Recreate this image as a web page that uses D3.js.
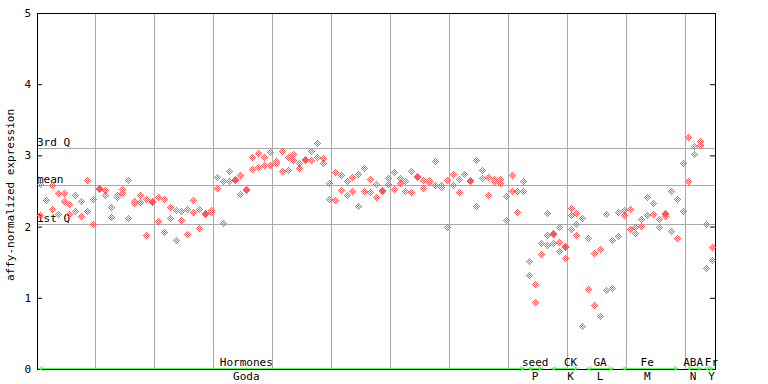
<!DOCTYPE html>
<html>
<head>
<meta charset="utf-8">
<script src="https://cdn.jsdelivr.net/npm/d3@7"></script>
<style>
  body { margin: 0; background: #fff; }
  text { font-family: "DejaVu Sans Mono", monospace; font-size: 11px; fill: #000; }
</style>
</head>
<body>
<svg width="768" height="384"></svg>
<script>
// replicate values per sample (affy-normalized expression)
const expression = [
  [2.598,2.163],[2.374],[2.584,2.247],[2.472,2.177],[2.472,2.360],[2.317,2.177],[2.444,2.219],[2.360,2.149],[2.654,2.219],[2.388,2.037],
  [2.542,2.528],[2.514,2.444],[2.275,2.135],[2.444,2.416],[2.528,2.472],[2.654,2.121],[2.360,2.331],[2.444,2.346],[2.388,1.882],[2.360,2.346],
  [2.416,2.079],[2.388,1.924],[2.275,2.121],[2.233,1.812],[2.219,2.093],[2.247,1.896],[2.374,2.205],[2.247,1.980],[2.191,2.177],[2.233,2.205],
  [2.697,2.542],[2.640,2.051],[2.781,2.640],[2.669,2.654],[2.725,2.458],[2.528,2.514],[2.978,2.809],[3.034,2.837],[2.978,2.865],[3.048,2.865],
  [2.921,2.893],[3.062,2.781],[2.978,2.795],[3.020,2.935],[2.893,2.823],[2.949,2.935],[3.062,2.935],[3.174,2.978],[2.963,2.893],[2.612,2.388],
  [2.767,2.374],[2.725,2.514],[2.640,2.444],[2.697,2.500],[2.739,2.289],[2.823,2.500],[2.669,2.486],[2.598,2.416],[2.514,2.500],[2.683,2.598],
  [2.767,2.528],[2.683,2.612],[2.640,2.500],[2.781,2.486],[2.711,2.697],[2.654,2.542],[2.654,2.626],[2.921,2.584],[2.584,2.556],[2.654,1.994],
  [2.739,2.584],[2.669,2.486],[2.739],[2.654,2.640],[2.935,2.289],[2.795,2.683],[2.697,2.444],[2.669,2.640],[2.669,2.612],[2.430,2.093],
  [2.725,2.500],[2.500,2.205],[2.640,2.500],[1.517,1.320],[1.194,0.941],[1.770,1.615],[2.191,1.882,1.742],[1.910,1.896,1.770],[1.994,1.784,1.657],[1.728,1.713,1.559],
  [2.261,2.163,1.966],[2.191,2.037,1.882],[2.121,0.604],[1.840,1.124],[1.629,0.899],[1.685,0.744],[2.177,1.110],[1.812,1.138],[2.205,1.868],[2.233,2.163],
  [2.247,1.966],[1.994,1.910],[2.107,2.008],[2.416,2.163],[2.331,2.177],[2.107,1.994],[2.191,2.177,2.149],[2.500,1.938],[2.388,1.840],[2.893,2.219],
  [3.258,2.640],[3.132,3.020],[3.202,3.146],[2.037,1.419],[1.713,1.531]
];

const groupNames = ['Hormones', 'seed', 'CK', 'GA', 'Fe', 'ABA', 'Fr'];
const groupCodes = ['Goda', 'P', 'K', 'L', 'M', 'N', 'Y'];
const groupStart = [0, 83, 87, 93, 99, 110, 113];
const groupEnd   = [82, 85, 91, 97, 108, 112, 114];
const groupLabelAt = [35, 84, 90, 95, 103, 110.8, 113.9];

const refNames  = ['3rd Q', 'mean', '1st Q'];
const refValues = [3.10, 2.58, 2.03];

const yTicks = [0, 1, 2, 3, 4, 5];

const svg = d3.select('svg');
const plotLeft = 37, plotRight = 715, plotTop = 13, plotBottom = 369;

const x = d3.scaleBand()
    .domain(d3.range(expression.length))
    .range([plotLeft, plotRight]);
const y = d3.scaleLinear()
    .domain([0, 5])
    .range([plotBottom, plotTop]);
const xAt = v => x.range()[0] + (v + 0.5) * x.step();

// vertical grid every 10 samples
svg.append('g')
  .selectAll('line')
  .data(d3.range(10, expression.length, 10))
  .enter().append('line')
    .attr('x1', d => Math.floor(x(d)) + 0.5)
    .attr('x2', d => Math.floor(x(d)) + 0.5)
    .attr('y1', plotTop)
    .attr('y2', plotBottom)
    .attr('stroke', '#aaaaaa');

// quartile / mean lines
const refs = svg.append('g');
refs.selectAll('line')
  .data(refValues)
  .enter().append('line')
    .attr('x1', plotLeft)
    .attr('x2', plotRight)
    .attr('y1', d => Math.round(y(d)) + 0.5)
    .attr('y2', d => Math.round(y(d)) + 0.5)
    .attr('stroke', '#aaaaaa');
refs.selectAll('text')
  .data(refValues)
  .enter().append('text')
    .attr('x', plotLeft)
    .attr('y', d => Math.round(y(d)) - 2)
    .text((d, i) => refNames[i]);

// frame
svg.append('line')
    .attr('x1', plotLeft).attr('x2', plotRight + 1)
    .attr('y1', plotTop + 0.5).attr('y2', plotTop + 0.5)
    .attr('stroke', '#000');
svg.append('line')
    .attr('x1', plotLeft).attr('x2', plotRight + 1)
    .attr('y1', plotBottom + 0.5).attr('y2', plotBottom + 0.5)
    .attr('stroke', '#000');

svg.append('g')
    .attr('transform', `translate(${plotLeft},0)`)
    .call(d3.axisLeft(y).tickValues(yTicks).tickSize(-5).tickSizeOuter(0).tickPadding(6).tickFormat(d3.format('d')))
    .call(g => g.selectAll('text').style('font-family', '"DejaVu Sans Mono", monospace').style('font-size', '11px'));

svg.append('g')
    .attr('transform', `translate(${plotRight},0)`)
    .call(d3.axisRight(y).tickValues(yTicks).tickSize(-5).tickSizeOuter(0).tickFormat(''));

svg.append('text')
    .attr('transform', `translate(14,${(plotTop + plotBottom) / 2 + 4}) rotate(-90)`)
    .attr('text-anchor', 'middle')
    .text('affy-normalized expression');

// group arrows
const green = '#55ff55';
const arrows = svg.append('g').attr('stroke', green).attr('fill', 'none');
groupNames.forEach((name, k) => {
  const x1 = xAt(groupStart[k]) - 1.5;
  const x2 = xAt(groupEnd[k]) + 1.5;
  const yy = plotBottom - 0.5;
  arrows.append('path')
      .attr('d', `M${x1},${yy}H${x2}M${x1 + 5},${yy - 2}L${x1},${yy}L${x1 + 5},${yy + 2}M${x2 - 5},${yy - 2}L${x2},${yy}L${x2 - 5},${yy + 2}`);
  svg.append('text')
      .attr('x', xAt(groupLabelAt[k]))
      .attr('y', plotBottom - 3)
      .attr('text-anchor', 'middle')
      .text(name);
  svg.append('text')
      .attr('x', xAt(groupLabelAt[k]))
      .attr('y', plotBottom + 11)
      .attr('text-anchor', 'middle')
      .text(groupCodes[k]);
});

// checkered diamond markers
const markerPixels = [];
for (let dy = -3; dy <= 3; dy++) {
  for (let dx = -3; dx <= 3; dx++) {
    if (Math.abs(dx) + Math.abs(dy) <= 3 && (dx + dy) % 2 !== 0) markerPixels.push([dx, dy]);
  }
}
const points = [];
expression.forEach((reps, i) => reps.forEach(v => points.push({ i, v })));

svg.append('g')
    .attr('fill', '#ff5555')
    .attr('shape-rendering', 'crispEdges')
  .selectAll('path')
  .data(points)
  .enter().append('path')
    .attr('d', d => {
      const px = Math.round(xAt(d.i)), py = Math.round(y(d.v));
      return markerPixels.map(([dx, dy]) => `M${px + dx},${py + dy}h1v1h-1z`).join('');
    });
</script>
</body>
</html>
